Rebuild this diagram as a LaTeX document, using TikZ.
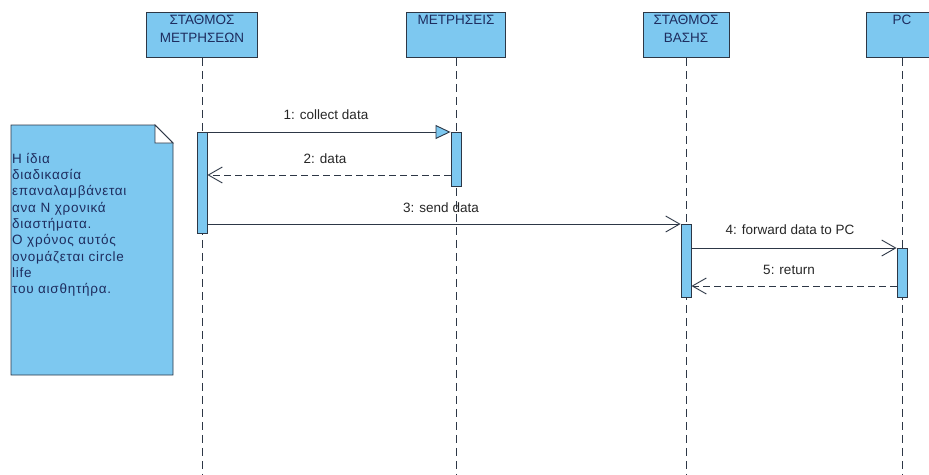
\documentclass[tikz,border=0pt]{standalone}
\usepackage{fontspec}
\setmainfont{Liberation Sans}
\usetikzlibrary{arrows.meta,calc}
\definecolor{boxblue}{RGB}{125,200,240}
\definecolor{edgec}{RGB}{45,55,70}
\definecolor{txtblue}{RGB}{30,45,95}
\tikzset{
  head/.style={draw=edgec, fill=boxblue, line width=0.9pt, anchor=north, minimum height=45pt, inner sep=0pt},
  headtxt/.style={anchor=north, align=center, text=txtblue, font=\fontsize{13.5}{17.5}\selectfont, inner sep=0pt},
  lifeline/.style={draw=edgec, line width=0.8pt, dash pattern=on 8pt off 5pt},
  actbar/.style={draw=edgec, fill=boxblue, line width=0.9pt, minimum width=10pt, anchor=north, inner sep=0pt},
  msg/.style={draw=edgec, line width=0.9pt},
  ret/.style={draw=edgec, line width=0.9pt, dash pattern=on 7pt off 4pt},
  stick/.style={-{Straight Barb[length=14pt,width=16pt,line width=0.9pt]}},
  tri/.style={-{Triangle[length=15pt,width=14pt,open,fill=boxblue,line width=0.9pt]}},
  mlabel/.style={font=\fontsize{13.5}{16}\selectfont, text=black!85, inner sep=0pt},
  note/.style={draw=edgec, fill=boxblue, line width=0.9pt}
}
\begin{document}
\begin{tikzpicture}[x=1pt,y=-1pt]
\useasboundingbox (0,0) rectangle (929,474);
\clip (0,0) rectangle (929,474);
% heads
\node[head, minimum width=111pt] (h1) at (202,12) {};
\node[head, minimum width=99pt] (h2) at (456,12) {};
\node[head, minimum width=86pt] (h3) at (686,12) {};
\node[head, minimum width=72pt] (h4) at (902,12) {};
\node[headtxt] (t1) at (202,15) {ΣΤΑΘΜΟΣ\\ΜΕΤΡΗΣΕΩΝ};
\node[headtxt] (t2) at (456,15) {ΜΕΤΡΗΣΕΙΣ};
\node[headtxt] (t3) at (686,15) {ΣΤΑΘΜΟΣ\\ΒΑΣΗΣ};
\node[headtxt] (t4) at (902,15) {PC};
% lifeline ends
\coordinate (e1) at (202,474);
\coordinate (e2) at (456,474);
\coordinate (e3) at (686,474);
\coordinate (e4) at (902,474);
\draw[lifeline] (h1.south) -- (e1);
\draw[lifeline] (h2.south) -- (e2);
\draw[lifeline] (h3.south) -- (e3);
\draw[lifeline] (h4.south) -- (e4);
% activation bars
\node[actbar, minimum height=101pt] (a1) at (202,132) {};
\node[actbar, minimum height=54pt] (a2) at (456,132) {};
\node[actbar, minimum height=73pt] (a3) at (686,224) {};
\node[actbar, minimum height=49pt] (a4) at (902,248) {};
% messages
\draw[msg, tri] (a1.north east) -- (a2.north west);
\node[mlabel] (l1) at (326,115) {1: collect data};
\draw[ret, stick] (a2.west |- 0,175) -- (a1.east |- 0,175);
\node[mlabel] (l2) at (325,159) {2: data};
\draw[msg, stick] (a1.east |- a3.north) -- (a3.north west);
\node[mlabel] (l3) at (441,208) {3: send data};
\draw[msg, stick] (a3.east |- a4.north) -- (a4.north west);
\node[mlabel] (l4) at (790,230) {4: forward data to PC};
\draw[ret, stick] (a4.west |- 0,286) -- (a3.east |- 0,286);
\node[mlabel] (l5) at (789,270) {5: return};
% note
\draw[note] (11,125) -- (155,125) -- (173,143) -- (173,375) -- (11,375) -- cycle;
\draw[draw=edgec, fill=white, line width=0.9pt] (155,125) -- (155,143) -- (173,143) -- cycle;
\node[anchor=north west, align=left, text=txtblue, inner sep=0pt,
  font=\fontsize{13.5}{16.3}\selectfont\addfontfeature{LetterSpace=5.5}] (nt) at (12,153)
  {Η ίδια\\διαδικασία\\επαναλαμβάνεται\\ανα Ν χρονικά\\διαστήματα.\\Ο χρόνος αυτός\\ονομάζεται circle\\life\\του αισθητήρα.};
\end{tikzpicture}
\end{document}
